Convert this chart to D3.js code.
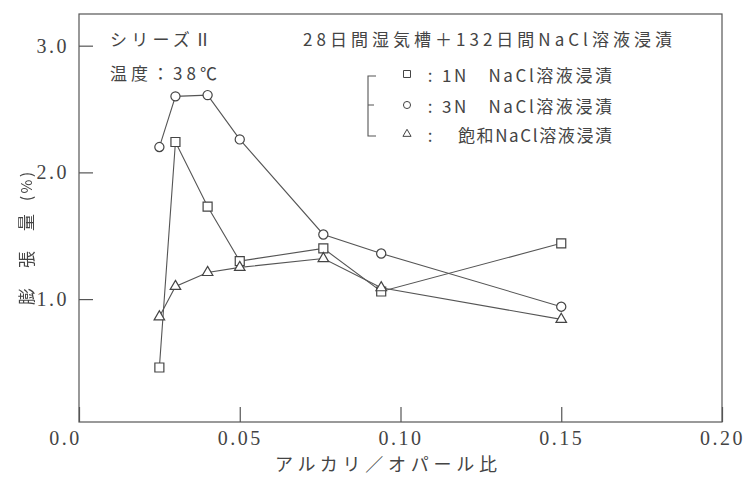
<!DOCTYPE html>
<html>
<head>
<meta charset="utf-8">
<script src="https://cdn.jsdelivr.net/npm/d3@7"></script>
<style>
  body { margin: 0; background: #fff; }
  svg { display: block; }
</style>
</head>
<body>
<script>
// Size of the page
var w = 750;
var h = 479;

// Data
var alkaliRatio = [0.025, 0.03, 0.04, 0.05, 0.076, 0.094, 0.15];
var expansion1N = [0.46, 2.24, 1.73, 1.30, 1.40, 1.06, 1.44];
var expansion3N = [2.20, 2.60, 2.61, 2.26, 1.51, 1.36, 0.94];
var expansionSat = [0.86, 1.10, 1.21, 1.25, 1.32, 1.09, 0.84];

var xTicks = [0, 0.05, 0.10, 0.15, 0.20];
var xTickLabels = ["0.0", "0.05", "0.10", "0.15", "0.20"];
var yTicks = [1, 2, 3];
var yTickLabels = ["1.0", "2.0", "3.0"];

var legendLabels = ["1N\u3000NaCl溶液浸漬", "3N\u3000NaCl溶液浸漬", "飽和NaCl溶液浸漬"];

var ink = "#444";
var jpFont = "'Noto Sans CJK JP', sans-serif";
var numFont = "'Liberation Serif', serif";

// Scales (the box spans the whole domain)
var xScale = d3.scaleLinear()
    .domain([0, 0.20])
    .range([79, 722]);

var yScale = d3.scaleLinear()
    .domain([0.03, 3.25])
    .range([422, 14]);

var svg = d3.select("body")
    .append("svg")
    .attr("width", w)
    .attr("height", h);

// Frame round the plot
svg.append("rect")
    .attr("x", xScale(0))
    .attr("y", yScale(3.25))
    .attr("width", xScale(0.20) - xScale(0))
    .attr("height", yScale(0.03) - yScale(3.25))
    .attr("fill", "none")
    .attr("stroke", "#555")
    .attr("stroke-width", 1.2);

// x axis, ticks pointing inside
var xAxis = d3.axisBottom(xScale)
    .tickValues(xTicks)
    .tickFormat(function(d, i) { return xTickLabels[i]; })
    .tickSize(-15)
    .tickPadding(9);

svg.append("g")
    .attr("transform", "translate(0," + yScale(0.03) + ")")
    .call(xAxis)
    .call(function(g) { g.select(".domain").remove(); })
    .call(function(g) {
        g.selectAll("line").attr("stroke", "#555").attr("stroke-width", 1.2);
        g.selectAll("text")
            .attr("font-family", numFont)
            .attr("font-size", "20px")
            .attr("letter-spacing", "2.5px")
            .attr("fill", ink)
            // the 0.0 label sits left of the corner
            .attr("dx", function(d, i) { return i === 0 ? -14 : 0; });
    });

// y axis, ticks pointing inside
var yAxis = d3.axisLeft(yScale)
    .tickValues(yTicks)
    .tickFormat(function(d, i) { return yTickLabels[i]; })
    .tickSize(-14)
    .tickPadding(10);

svg.append("g")
    .attr("transform", "translate(" + xScale(0) + ",0)")
    .call(yAxis)
    .call(function(g) { g.select(".domain").remove(); })
    .call(function(g) {
        g.selectAll("line").attr("stroke", "#555").attr("stroke-width", 1.2);
        g.selectAll("text")
            .attr("font-family", numFont)
            .attr("font-size", "20px")
            .attr("letter-spacing", "2.5px")
            .attr("fill", ink);
    });

// Series
var series = [
    { values: expansion1N, symbol: d3.symbolSquare, size: 81 },
    { values: expansion3N, symbol: d3.symbolCircle, size: 66 },
    { values: expansionSat, symbol: d3.symbolTriangle, size: 48 }
];

var line = d3.line()
    .x(function(d) { return xScale(d[0]); })
    .y(function(d) { return yScale(d[1]); });

series.forEach(function(s) {
    var pts = alkaliRatio.map(function(x, i) { return [x, s.values[i]]; });

    svg.append("path")
        .datum(pts)
        .attr("d", line)
        .attr("fill", "none")
        .attr("stroke", "#555")
        .attr("stroke-width", 1.1);

    svg.append("g")
        .selectAll("path")
        .data(pts)
        .enter()
        .append("path")
        .attr("d", d3.symbol().type(s.symbol).size(s.size))
        .attr("transform", function(d) {
            return "translate(" + xScale(d[0]) + "," + yScale(d[1]) + ")";
        })
        .attr("fill", "#fff")
        .attr("stroke", "#444")
        .attr("stroke-width", 1.2);
});

// Texts inside the plot
function label(txt, x, y, len, size) {
    svg.append("text")
        .attr("x", x)
        .attr("y", y)
        .attr("dominant-baseline", "central")
        .attr("font-family", jpFont)
        .attr("font-size", size + "px")
        .attr("fill", ink)
        .attr("textLength", len)
        .attr("lengthAdjust", "spacing")
        .text(txt);
}

label("シリーズⅡ", 110, 38, 101, 17);
label("温度：38℃", 110, 72, 107, 17);
label("28日間湿気槽＋132日間NaCl溶液浸漬", 303, 38, 369, 17);

// Legend bracket
var rowY = [74, 105, 134];
svg.append("path")
    .attr("d", "M376," + (rowY[0] + 2) + "H368V" + (rowY[2] + 2) + "H376M368," + rowY[1] + "H374")
    .attr("fill", "none")
    .attr("stroke", "#555")
    .attr("stroke-width", 1.1);

// Legend rows
series.forEach(function(s, i) {
    svg.append("path")
        .attr("d", d3.symbol().type(s.symbol).size(s.size * 0.6))
        .attr("transform", "translate(407," + rowY[i] + ")")
        .attr("fill", "#fff")
        .attr("stroke", "#444")
        .attr("stroke-width", 1);

    svg.append("text")
        .attr("x", 430)
        .attr("y", rowY[i])
        .attr("dominant-baseline", "central")
        .attr("text-anchor", "middle")
        .attr("font-family", jpFont)
        .attr("font-size", "17px")
        .attr("fill", ink)
        .text(":");
});

label(legendLabels[0], 442, rowY[0], 170, 17);
label(legendLabels[1], 442, rowY[1], 170, 17);
label(legendLabels[2], 458, rowY[2], 154, 17);

// Axis titles
label("アルカリ／オパール比", 275, 463, 222, 18);

// rotated title; grayscale filter removes colour fringes of rotated glyphs
var yTitle = svg.append("g")
    .style("filter", "grayscale(100%)");

yTitle.append("text")
    .attr("transform", "translate(25,305) rotate(-90)")
    .attr("dominant-baseline", "central")
    .attr("font-family", jpFont)
    .attr("font-size", "17px")
    .attr("fill", ink)
    .attr("textLength", 91)
    .attr("lengthAdjust", "spacing")
    .text("膨張量");

yTitle.append("text")
    .attr("transform", "translate(25,201) rotate(-90)")
    .attr("dominant-baseline", "central")
    .attr("font-family", jpFont)
    .attr("font-size", "15px")
    .attr("fill", ink)
    .attr("textLength", 29)
    .attr("lengthAdjust", "spacing")
    .text("(%)");
</script>
</body>
</html>
